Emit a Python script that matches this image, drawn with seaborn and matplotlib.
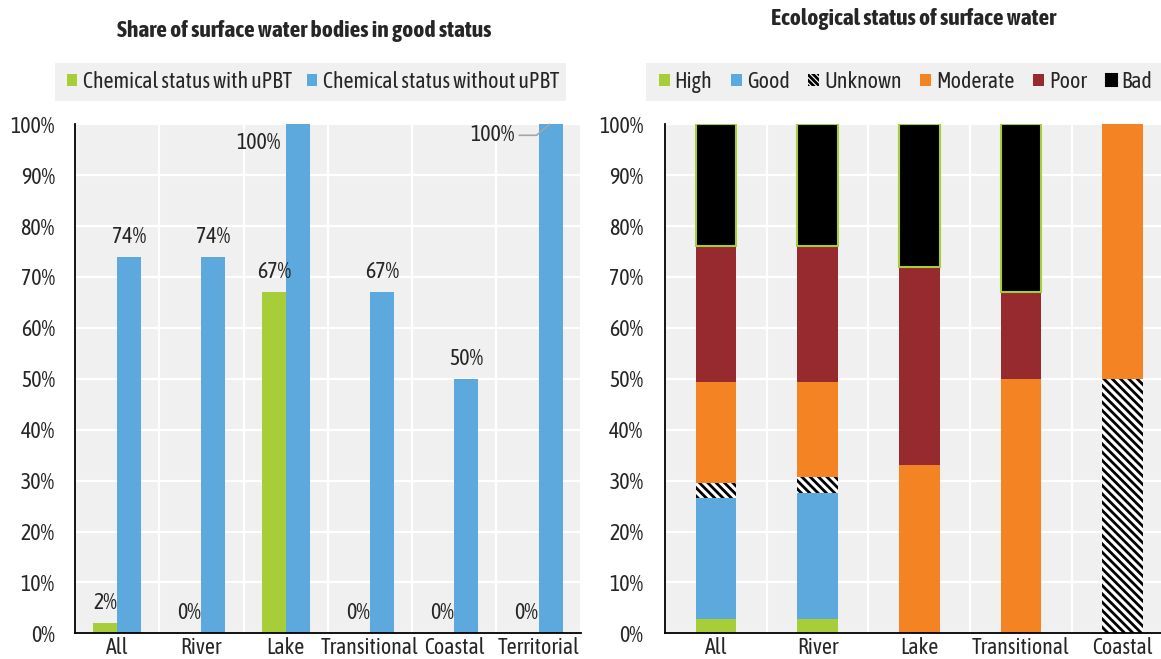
import numpy as np
import pandas as pd
import matplotlib
matplotlib.use("Agg")
import matplotlib.pyplot as plt
from matplotlib import font_manager
from matplotlib.font_manager import FontProperties
from matplotlib.patches import Patch, Rectangle
from matplotlib.textpath import TextPath
import seaborn as sns

# --- Share of surface water bodies in good status (%) ---
water_types = ["All", "River", "Lake", "Transitional", "Coastal", "Territorial"]
chem_series = ["Chemical status with uPBT", "Chemical status without uPBT"]
chem_with_upbt = [2, 0, 67, 0, 0, 0]
chem_without_upbt = [74, 74, 100, 67, 50, 100]

# --- Ecological status of surface water (% of water bodies) ---
eco_types = ["All", "River", "Lake", "Transitional", "Coastal"]
eco_classes = ["High", "Good", "Unknown", "Moderate", "Poor", "Bad"]
eco_high = [2.8, 2.8, 0, 0, 0]
eco_good = [23.8, 24.8, 0, 0, 0]
eco_unknown = [3.0, 3.1, 0, 0, 50]
eco_moderate = [19.8, 18.7, 33, 50, 50]
eco_poor = [26.7, 26.7, 39, 17, 0]
eco_bad = [23.9, 23.9, 28, 33, 0]

y_ticks = list(range(0, 101, 10))

GREEN = "#A7CE38"
BLUE = "#5DA8DD"
ORANGE = "#F48323"
RED = "#962A2F"
BLACK = "#000000"
PANEL = "#F0F0F0"
LEADER = "#A6A6A6"
HATCH = "\\\\\\\\"

sns.set_style("white")


def _weight_num(w):
    if isinstance(w, (int, float)):
        return int(w)
    return {"normal": 400, "regular": 400, "book": 400, "medium": 500,
            "semibold": 600, "demibold": 600, "bold": 700,
            "heavy": 800, "black": 900}.get(str(w).lower(), 400)


# prefer a narrow sans face (ideally one with a bold cut)
narrow_faces = {}
for entry in font_manager.fontManager.ttflist:
    if "Narrow" in entry.name or "Condensed" in entry.name:
        narrow_faces.setdefault(entry.name, set()).add(_weight_num(entry.weight))
family = "Liberation Sans"
has_bold = True
if narrow_faces:
    with_bold = [n for n, ws in narrow_faces.items() if 400 in ws and 700 in ws]
    plain = [n for n, ws in narrow_faces.items() if 400 in ws]
    if with_bold:
        family = sorted(with_bold)[0]
    elif plain:
        family = sorted(plain)[0]
        has_bold = False
plt.rcParams["font.family"] = [family, "DejaVu Sans"]
plt.rcParams["hatch.linewidth"] = 2.0


def width_px(text, fam, weight="normal", size=10):
    tp = TextPath((0, 0), text, size=size, prop=FontProperties(family=fam, weight=weight))
    return tp.get_extents().width * 100 / 72


# body text sized so a legend entry spans ~208 px
FS = 10 * 208 / width_px("Chemical status with uPBT", family)
FS_PX = FS * 100 / 72
LEFT_TITLE = "Share of surface water bodies in good status"
RIGHT_TITLE = "Ecological status of surface water"
title_family = family if has_bold else "Liberation Sans"
TFS = 10 * 372 / width_px(LEFT_TITLE, title_family, "bold")

W, H = 1161, 659
fig = plt.figure(figsize=(W / 100, H / 100), dpi=100)
fig.patch.set_facecolor("white")


def px_box(x0, y_top, x1, y_bot):
    return [x0 / W, 1 - y_bot / H, (x1 - x0) / W, (y_bot - y_top) / H]


ax1 = fig.add_axes(px_box(75, 124.3, 580.7, 633.3))
ax2 = fig.add_axes(px_box(665, 124.3, 1173.5, 633.3))


def style_axis(ax, n, ypad):
    ax.set_facecolor(PANEL)
    ax.set_axisbelow(True)
    ax.set_ylim(0, 100)
    ax.set_xlim(-0.5, n - 0.5)
    ax.set_yticks(y_ticks)
    ax.set_yticklabels([f"{t}%" for t in y_ticks])
    ax.set_xticks(np.arange(n + 1) - 0.5, minor=True)
    ax.yaxis.grid(True, color="white", linewidth=1.6)
    ax.xaxis.grid(False, which="major")
    ax.xaxis.grid(True, which="minor", color="white", linewidth=1.6)
    ax.tick_params(axis="x", which="major", length=0, pad=3, labelsize=FS)
    ax.tick_params(axis="x", which="minor", direction="in", length=3.5,
                   width=1.2, color="black")
    ax.tick_params(axis="y", direction="in", length=3.5, width=1.2,
                   color="black", pad=ypad, labelsize=FS)
    for side in ("top", "right"):
        ax.spines[side].set_visible(False)
    for side in ("left", "bottom"):
        ax.spines[side].set_color("black")
        ax.spines[side].set_linewidth(1.3)
    ax.set_xlabel("")
    ax.set_ylabel("")


# ---------------- left panel: grouped bars ----------------
chem_df = pd.DataFrame({
    "type": water_types * 2,
    "series": [chem_series[0]] * len(water_types) + [chem_series[1]] * len(water_types),
    "value": chem_with_upbt + chem_without_upbt,
})
sns.barplot(data=chem_df, x="type", y="value", hue="series",
            order=water_types, hue_order=chem_series,
            palette=[GREEN, BLUE], width=0.57, saturation=1,
            errorbar=None, linewidth=0, legend=False, ax=ax1)
style_axis(ax1, len(water_types), 14.5)

# value labels; full-height bars get their label tucked beside the bar
full_label_style = {
    "Lake": dict(dx=-5, dy=-19, lead=False),
    "Territorial": dict(dx=-35, dy=-11, lead=True, into=11),
}
for container, values in zip(ax1.containers, [chem_with_upbt, chem_without_upbt]):
    for patch, v, name in zip(container.patches, values, water_types):
        cx = patch.get_x() + patch.get_width() / 2
        label = f"{v:.0f}%"
        if v >= 100 and name in full_label_style:
            st = full_label_style[name]
            if st["lead"]:
                into = st["into"] / (ax1.bbox.width / len(water_types))
                ax1.annotate(label, xy=(patch.get_x() + into, v),
                             xytext=(st["dx"], st["dy"]), textcoords="offset pixels",
                             ha="right", va="center", fontsize=FS,
                             annotation_clip=False,
                             arrowprops=dict(arrowstyle="-", color=LEADER, lw=1.2,
                                             shrinkA=1, shrinkB=0,
                                             connectionstyle="angle,angleA=0,angleB=40,rad=0"))
            else:
                ax1.annotate(label, xy=(patch.get_x(), v),
                             xytext=(st["dx"], st["dy"]), textcoords="offset pixels",
                             ha="right", va="center", fontsize=FS)
        else:
            ax1.annotate(label, xy=(cx, v), xytext=(0, 14), textcoords="offset pixels",
                         ha="center", va="baseline", fontsize=FS)

# ---------------- right panel: stacked bars ----------------
eco_values = [eco_high, eco_good, eco_unknown, eco_moderate, eco_poor, eco_bad]
eco_style = {
    "High": dict(color=GREEN, linewidth=0),
    "Good": dict(color=BLUE, linewidth=0),
    "Unknown": dict(color="white", edgecolor="black", hatch=HATCH, linewidth=0),
    "Moderate": dict(color=ORANGE, linewidth=0),
    "Poor": dict(color=RED, linewidth=0),
    "Bad": dict(color=BLACK, edgecolor=GREEN, linewidth=1.5),
}
bottoms = np.zeros(len(eco_types))
for cls, vals in zip(eco_classes, eco_values):
    n_before = len(ax2.patches)
    sns.barplot(x=eco_types, y=vals, order=eco_types, width=0.4, saturation=1,
                errorbar=None, bottom=bottoms.copy(), ax=ax2, **eco_style[cls])
    for p in ax2.patches[n_before:]:
        if p.get_height() <= 0:
            p.set_visible(False)
    bottoms += np.asarray(vals, dtype=float)
style_axis(ax2, len(eco_types), 15.5)

# ---------------- titles ----------------
fig.text(304 / W, 1 - 31 / H, LEFT_TITLE, ha="center", va="center",
         fontsize=TFS, fontweight="bold", family=[title_family, "DejaVu Sans"])
fig.text(914 / W, 1 - 19 / H, RIGHT_TITLE, ha="center", va="center",
         fontsize=TFS, fontweight="bold", family=[title_family, "DejaVu Sans"])

# ---------------- legends on grey bands ----------------
fig.patches.append(Rectangle((55 / W, 1 - 101 / H), 511 / W, 38 / H,
                             transform=fig.transFigure, facecolor=PANEL,
                             edgecolor="none", zorder=0))
fig.patches.append(Rectangle((646 / W, 1 - 101 / H), 528 / W, 38 / H,
                             transform=fig.transFigure, facecolor=PANEL,
                             edgecolor="none", zorder=0))

chem_handles = [Patch(facecolor=GREEN, linewidth=0), Patch(facecolor=BLUE, linewidth=0)]
fig.legend(chem_handles, chem_series, loc="center",
           bbox_to_anchor=(313.5 / W, 1 - 82 / H), ncol=2, frameon=False,
           fontsize=FS, handlelength=10 / FS_PX, handleheight=10 / FS_PX,
           handletextpad=6 / FS_PX, columnspacing=15 / FS_PX, borderpad=0)

legend_style = dict(eco_style)
legend_style["Unknown"] = dict(facecolor="white", edgecolor="black",
                               hatch="\\\\\\\\\\\\", linewidth=0)
eco_handles = [Patch(**legend_style[c]) for c in eco_classes]
fig.legend(eco_handles, eco_classes, loc="center",
           bbox_to_anchor=(905.5 / W, 1 - 82 / H), ncol=6, frameon=False,
           fontsize=FS, handlelength=11 / FS_PX, handleheight=11 / FS_PX,
           handletextpad=4.5 / FS_PX, columnspacing=19 / FS_PX, borderpad=0)

fig.savefig("out.png", dpi=100)
